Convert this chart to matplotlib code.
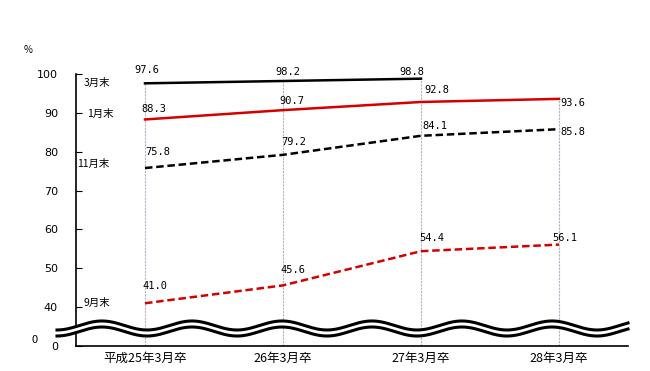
import numpy as np
import matplotlib
matplotlib.use("Agg")
import matplotlib.pyplot as plt

plt.rcParams['font.family'] = ['Noto Sans CJK JP', 'DejaVu Sans']

categories = ["平成25年3月卒", "26年3月卒", "27年3月卒", "28年3月卒"]
s_mar = [97.6, 98.2, 98.8]
s_jan = [88.3, 90.7, 92.8, 93.6]
s_nov = [75.8, 79.2, 84.1, 85.8]
s_sep = [41.0, 45.6, 54.4, 56.1]
ytick_vals = [30, 40, 50, 60, 70, 80, 90, 100]
ytick_labels = ["0", "40", "50", "60", "70", "80", "90", "100"]

fig = plt.figure(figsize=(6.5, 3.71), dpi=100)
ax = fig.add_axes([76/650, 1-346/371, (628-76)/650, (346-74)/371])
x = np.arange(len(categories)) + 0.5
ax.set_xlim(0, 4)
ax.set_ylim(30, 100)

# vertical grid lines up to top value
tops = [max(s_mar[0], s_jan[0]), max(s_mar[1], s_jan[1]), max(s_mar[2], s_jan[2]), s_jan[3]]
for xi, t in zip(x, tops):
    ax.plot([xi, xi], [30, t], color='#b8b0c8', lw=0.8, ls=(0, (2, 1)), zorder=1)

red = '#d40000'
ax.plot(x[:3], s_mar, color='black', lw=1.8, zorder=3)
ax.plot(x, s_jan, color=red, lw=1.8, zorder=3)
ax.plot(x, s_nov, color='black', lw=1.8, ls=(0, (3, 1.5)), zorder=3)
ax.plot(x, s_sep, color=red, lw=1.8, ls=(0, (3, 1.5)), zorder=3)

fs = 7.5
def lab(xv, yv, s, dx=0, dy=0, ha='center'):
    ax.annotate(s, (xv, yv), xytext=(dx, dy), textcoords='offset points',
                ha=ha, va='center', fontsize=fs, family=['DejaVu Sans Mono'])

# 3月末
lab(x[0], s_mar[0], "97.6", 1, 9.7)
lab(x[1], s_mar[1], "98.2", 3.6, 6.6)
lab(x[2], s_mar[2], "98.8", -6.8, 4.9)
# 1月末
lab(x[0], s_jan[0], "88.3", 6.5, 7.6)
lab(x[1], s_jan[1], "90.7", 6.5, 6.7)
lab(x[2], s_jan[2], "92.8", 11.5, 8.8)
lab(x[3], s_jan[3], "93.6", 10, -2.9)
# 11月末
lab(x[0], s_nov[0], "75.8", 9.4, 11.5)
lab(x[1], s_nov[1], "79.2", 7.9, 9.4)
lab(x[2], s_nov[2], "84.1", 10, 7.1)
lab(x[3], s_nov[3], "85.8", 10, -2)
# 9月末
lab(x[0], s_sep[0], "41.0", 6.8, 12.5)
lab(x[1], s_sep[1], "45.6", 7.2, 11)
lab(x[2], s_sep[2], "54.4", 8, 9.6)
lab(x[3], s_sep[3], "56.1", 4.3, 4.7)

# series names
names = [("3月末", 97.73, 0.149), ("1月末", 89.75, 0.174), ("11月末", 76.87, 0.123), ("9月末", 41.07, 0.152)]
for n, yv, xv in names:
    ax.text(xv, yv, n, fontsize=7.5, ha='center', va='center')

ax.spines['top'].set_visible(False)
ax.spines['right'].set_visible(False)
ax.spines['left'].set_linewidth(1.2)
ax.spines['bottom'].set_linewidth(1.2)
ax.set_yticks(ytick_vals)
ax.set_yticklabels(ytick_labels, fontsize=8, family=['DejaVu Sans'])
ax.tick_params(axis='y', direction='in', length=4, pad=13)
ax.set_xticks(x)
ax.set_xticklabels(categories, fontsize=9)
ax.tick_params(axis='x', length=0, pad=4)

ax.text((34.5-76)/138, 30 + 6/3.883, "0", fontsize=8, ha='center', va='center', clip_on=False)
fig.text(28/650, 1-50/371, "%", fontsize=7, ha='center', va='center')

# wavy break
xs = np.linspace((57-76)/138, 4.0, 800)
period = 90/138
x_trough = (147-76)/138
phase = np.cos(2*np.pi*(xs - x_trough)/period)
w1 = 35.28 - 1.16*phase
w2 = 33.73 - 1.16*phase
ax.fill_between(xs, w2, w1, color='white', zorder=5, clip_on=False)
ax.plot(xs, w1, color='black', lw=2.2, zorder=6, clip_on=False)
ax.plot(xs, w2, color='black', lw=2.2, zorder=6, clip_on=False)

fig.savefig("out.png", dpi=100)
